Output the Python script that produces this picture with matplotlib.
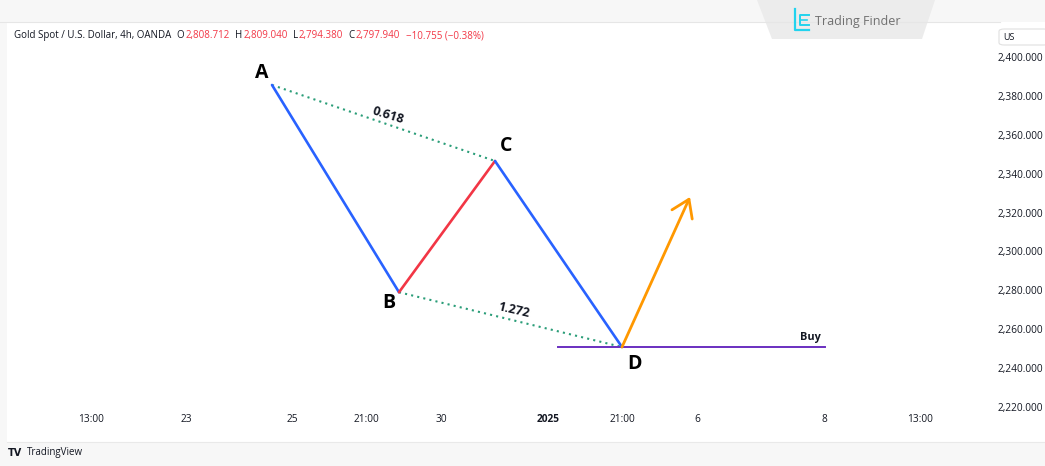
import matplotlib
matplotlib.use("Agg")
import matplotlib.pyplot as plt
from matplotlib.patches import Polygon, FancyBboxPatch

# ---- data ----
point_names = ["A", "B", "C", "D"]
point_x = [53.0, 78.4, 97.6, 123.0]          # bar index
point_price = [2385.6, 2279.0, 2346.5, 2250.8]
leg_colors = ["#2962ff", "#f23645", "#2962ff"]
arrow_end_x, arrow_end_price = 136.6, 2328.0
buy_x = [110.2, 163.6]
buy_price = 2250.8
ratio_labels = ["0.618", "1.272"]

price_ticks = [2220, 2240, 2260, 2280, 2300, 2320, 2340, 2360, 2380, 2400]
time_tick_x = [16.8, 35.8, 57.0, 71.8, 86.8, 108.2, 123.0, 138.0, 163.4, 182.6]
time_tick_labels = ["13:00", "23", "25", "21:00", "30", "2025", "21:00", "6", "8", "13:00"]

header_texts = ["Gold Spot / U.S. Dollar, 4h, OANDA", "O", "2,808.712", "H", "2,809.040",
                "L", "2,794.380", "C", "2,797.940", "\u221210.755 (\u22120.38%)"]
header_colors = ["#131722", "#131722", "#f23645", "#131722", "#f23645",
                 "#131722", "#f23645", "#131722", "#f23645", "#f23645"]

W, H = 1045, 466
fig = plt.figure(figsize=(W / 100, H / 100), dpi=100, facecolor="#f7f7f7")
plt.rcParams['font.family'] = ['Open Sans', 'DejaVu Sans']

left_px, right_px, top_px, bot_px = 7, 1045, 22, 442
ax = fig.add_axes([left_px / W, 1 - bot_px / H, (right_px - left_px) / W, (bot_px - top_px) / H])
ax.set_facecolor("white")
for s in ax.spines.values():
    s.set_visible(False)

ax.set_xlim(0, 207.6)
ax.set_ylim(2201.95, 2418.0)

# y axis labels (right, inside)
ax.yaxis.tick_right()
ax.set_yticks(price_ticks)
ax.set_yticklabels([f"{p:,.3f}" for p in price_ticks])
ax.tick_params(axis="y", length=0, pad=-1.5, labelsize=7.3, labelcolor="#131722")
for lab in ax.get_yticklabels():
    lab.set_horizontalalignment("right")

ax.set_xticks(time_tick_x)
ax.set_xticklabels(time_tick_labels)
ax.tick_params(axis="x", length=0, pad=-20, labelsize=7.3, labelcolor="#131722")
for lab, t in zip(ax.get_xticklabels(), time_tick_labels):
    if t == "2025":
        lab.set_fontweight("bold")

# dotted ratio lines A-C and B-D
ax.plot([point_x[0], point_x[2]], [point_price[0], point_price[2]], color="#2a9d78",
        lw=1.5, ls=(0, (1, 2.0)))
ax.plot([point_x[1], point_x[3]], [point_price[1], point_price[3]], color="#2a9d78",
        lw=1.5, ls=(0, (1, 2.0)))

# buy line
ax.plot(buy_x, [buy_price, buy_price], color="#6a2fc0", lw=1.4)
ax.text(buy_x[1] - 3.0, buy_price + 2.3, "Buy", fontsize=7.8, fontweight="bold",
        ha="center", va="bottom", color="#131722")

# legs
for i in range(3):
    ax.plot(point_x[i:i + 2], point_price[i:i + 2], color=leg_colors[i], lw=1.9,
            solid_capstyle="round")

# arrow
ax.annotate("", xy=(arrow_end_x, arrow_end_price), xytext=(point_x[3], point_price[3]),
            arrowprops=dict(arrowstyle="->,head_length=0.6,head_width=0.4",
                            color="#ff9800", lw=2.0, shrinkA=0, shrinkB=0,
                            mutation_scale=20))

# point labels
label_offsets = [(-2.0, 6.2), (-2.0, -5.5), (2.2, 7.7), (2.4, -8.5)]
for n, x, p, (dx, dy) in zip(point_names, point_x, point_price, label_offsets):
    ax.text(x + dx, p + dy, n, fontsize=14, fontweight="bold", ha="center",
            va="center", color="#000000")

# ratio labels
ax.text(76.3, 2370.2, ratio_labels[0], fontsize=9, fontweight="bold", rotation=-17,
        ha="center", va="center", color="#131722")
ax.text(101.4, 2269.9, ratio_labels[1], fontsize=9, fontweight="bold", rotation=-13,
        ha="center", va="center", color="#131722")

# header text, chained
last = None
for i, (txt, col) in enumerate(zip(header_texts, header_colors)):
    if last is None:
        last = fig.text(14 / W, 1 - 35.5 / H, txt, fontsize=7, color=col, va="center",
                        ha="left", family=["Open Sans", "DejaVu Sans"])
    else:
        gap = 0.8 if header_colors[i] != header_colors[i - 1] and txt[0].isdigit() else 3.8
        last = ax.annotate(txt, xy=(1, 0.5), xycoords=last, xytext=(gap, 0),
                           textcoords="offset points", fontsize=7, color=col,
                           va="center", ha="left", family=["Open Sans", "DejaVu Sans"],
                           annotation_clip=False)

# panel border lines
fig.add_artist(plt.Line2D([0, 1000 / W], [1 - 22 / H, 1 - 22 / H], color="#e6e6e6", lw=0.8))
fig.add_artist(plt.Line2D([7 / W, 1], [1 - 442 / H, 1 - 442 / H], color="#e9e9e9", lw=0.8))

# Trading Finder watermark tab
tab = Polygon([[757 / W, 1.0], [935 / W, 1.0], [922 / W, 1 - 39 / H], [772 / W, 1 - 39 / H]],
              closed=True, transform=fig.transFigure, facecolor="#ececec", edgecolor="none")
fig.add_artist(tab)
cyan = "#22d3ee"
fig.add_artist(plt.Line2D([795 / W, 795 / W, 809 / W], [1 - 9 / H, 1 - 30 / H, 1 - 30 / H],
                          color=cyan, lw=1.6))
fig.add_artist(plt.Line2D([809 / W, 800 / W, 800 / W, 809 / W],
                          [1 - 15 / H, 1 - 15 / H, 1 - 25 / H, 1 - 25 / H],
                          color=cyan, lw=1.4))
fig.add_artist(plt.Line2D([800 / W, 807 / W], [1 - 20 / H, 1 - 20 / H], color=cyan, lw=1.2))
fig.text(815 / W, 1 - 22 / H, "Trading Finder", fontsize=9, color="#707070",
         va="center", ha="left")

# US box at top right
box = FancyBboxPatch((999 / W, 1 - 45 / H), 50 / W, 16 / H, boxstyle="round,pad=0,rounding_size=0.005",
                     transform=fig.transFigure, facecolor="white", edgecolor="#e0e0e0", lw=0.8)
fig.add_artist(box)
fig.text(1003 / W, 1 - 37 / H, "US", fontsize=6.5, color="#131722", va="center", ha="left")

# TradingView logo & text
fig.text(8 / W, 1 - 453 / H, "TV", fontsize=7, fontweight="bold", color="#131722",
         va="center", ha="left", family=["DejaVu Sans"])
fig.text(27 / W, 1 - 453 / H, "TradingView", fontsize=7, color="#131722", va="center", ha="left")

fig.savefig("out.png", dpi=100, facecolor=fig.get_facecolor())
